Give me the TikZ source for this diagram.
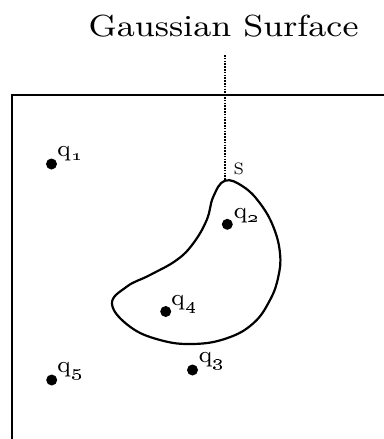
\documentclass[tikz,border=0pt]{standalone}
\usepackage{graphicx}
\begin{document}
\begin{tikzpicture}[x=1pt,y=-1pt,
  frame/.style={line width=2pt, line cap=rect},
  surf/.style={line width=2.2pt},
  charge/.style={circle, fill=black, inner sep=0pt, minimum size=11pt},
  qlab/.style={anchor=base west, inner sep=0pt},
  guide/.style={line width=2pt, dash pattern=on 1.6pt off 1.2pt}]
\useasboundingbox (0,0) rectangle (383,439);
\newcommand{\qsub}[1]{\scalebox{3.3}{\fontsize{7}{8}\selectfont q\raisebox{-1.3pt}{\fontsize{5}{6}\selectfont\oldstylenums{#1}}}}
% title
\node[anchor=base west, inner sep=0pt] (title) at (88.3,36.7)
  {\resizebox{270pt}{21.5pt}{\fontsize{9}{10}\selectfont Gaussian Surface}};
% box
\coordinate (bl) at (11.5,440);
\coordinate (tl) at (11.5,95);
\coordinate (tr) at (384,95);
\draw[frame] (bl) -- (tl) -- (tr);
% surface
\coordinate (top) at (225,180.7);
\coordinate (dtop) at (225,55);
\draw[surf] plot[smooth cycle, tension=0.7] coordinates {
 (225,180.7) (243.3,186.7) (260,203.3) (273.3,226.7) (280,253.3)
 (278.3,276.7) (270,300) (253.3,323.3) (226.7,338.3) (193.3,344)
 (160,340) (130,326.7) (112,304)
 (126.7,286.7) (150,275) (176.7,260) (193.3,243.3) (206.7,220) (213.3,196.7)};
\draw[guide] (dtop) -- (top);
\node[anchor=base west, inner sep=0pt] (S) at (233.5,174.5) {\scalebox{2.35}{\fontsize{7}{8}\selectfont S}};
% charges
\node[charge] (c1) at (51.5,164) {};
\node[charge] (c2) at (227.3,224.3) {};
\node[charge] (c3) at (192.5,370) {};
\node[charge] (c4) at (165.7,311.5) {};
\node[charge] (c5) at (51.7,380) {};
\node[qlab] (l1) at (57,156.5) {\qsub{1}};
\node[qlab] (l2) at (233.5,218.3) {\qsub{2}};
\node[qlab] (l3) at (198.5,362) {\qsub{3}};
\node[qlab] (l4) at (171,305.5) {\qsub{4}};
\node[qlab] (l5) at (57,372.5) {\qsub{5}};
\end{tikzpicture}
\end{document}
